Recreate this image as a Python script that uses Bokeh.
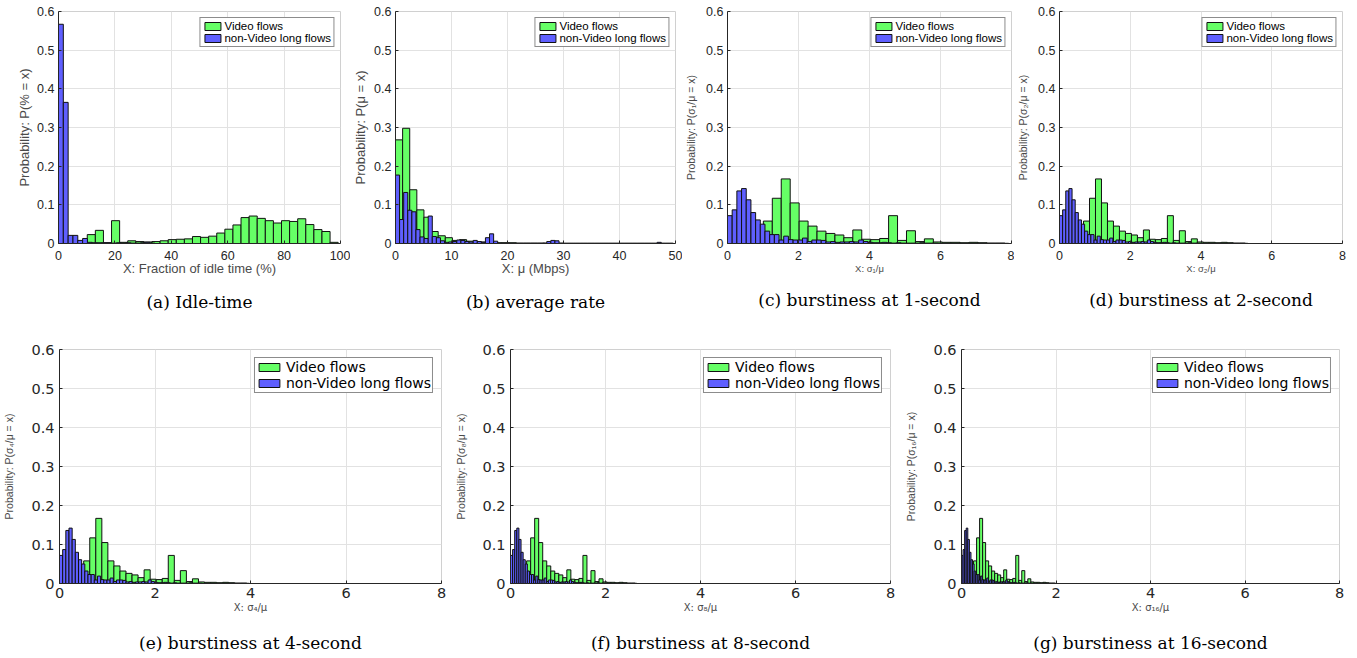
import numpy as np
from bokeh.plotting import figure
from bokeh.models import Range1d, FixedTicker, NumeralTickFormatter, Title
from bokeh.layouts import row, column
from bokeh.embed import file_html
from bokeh.resources import INLINE

# ---------------- data ----------------
# (a) idle time, % ; histogram bins
idle_video_start = 10.2
idle_video_bin = 2.87
idle_video = [0.023, 0.034, 0.002, 0.059, 0.003, 0.007, 0.005, 0.004, 0.005, 0.007,
              0.010, 0.011, 0.012, 0.018, 0.016, 0.019, 0.027, 0.037, 0.048, 0.067,
              0.071, 0.065, 0.059, 0.053, 0.059, 0.057, 0.064, 0.049, 0.036, 0.031,
              0.003]
idle_nonvideo_start = 0.0
idle_nonvideo_bin = 1.71
idle_nonvideo = [0.567, 0.365, 0.021, 0.021, 0.008, 0.013, 0.003, 0.002, 0.002, 0.002,
                 0.002, 0.001, 0.002, 0.001, 0.002, 0.001, 0.001, 0.002, 0.003, 0.001]

# (b) average rate, Mbps
rate_video_start = 0.0
rate_video_bin = 1.27
rate_video = [0.268, 0.298, 0.139, 0.087, 0.068, 0.031, 0.020, 0.015, 0.008, 0.010,
              0.006, 0.005, 0.004, 0.003, 0.002, 0.002, 0.002, 0.001, 0.001, 0.001,
              0.001, 0.0005, 0.0005, 0.0005, 0.0005, 0.0005, 0.0005, 0.0005, 0.0005, 0.0005,
              0.0005, 0.0005, 0.0005, 0.0005, 0.0005, 0.0005, 0.0005, 0.0005, 0.0005]
rate_nonvideo_start = 0.0
rate_nonvideo_bin = 0.73
rate_nonvideo = [0.177, 0.062, 0.132, 0.086, 0.082, 0.036, 0.017, 0.013, 0.071, 0.018,
                 0.015, 0.007, 0.003, 0.004, 0.005, 0.009, 0.008, 0.005, 0.004, 0.008,
                 0.005, 0.003, 0.015, 0.025, 0.006, 0.001, 0.001, 0.001, 0.0005, 0.0005,
                 0.0005, 0.0005, 0.0005, 0.0005, 0.0005, 0.0005, 0.001, 0.005, 0.008, 0.007,
                 0.001, 0.0005, 0.0005, 0.0005, 0.0005, 0.0005, 0.0005, 0.0005, 0.0005, 0.0005,
                 0.0005, 0.0005, 0.0005, 0.0005, 0.0005, 0.0005, 0.0005, 0.0005, 0.0005, 0.0005,
                 0.0005, 0.0005, 0.0005, 0.0005, 0.003, 0.0005, 0.0005, 0.0005]

# (c)-(g) burstiness sigma_T / mu : same distribution shape at every timescale,
# bins given for the 1-second case, x compressed by the factor of each timescale
burst_video_start = 1.01
burst_video_bin = 0.252
burst_video = [0.058, 0.117, 0.167, 0.105, 0.058, 0.045, 0.032, 0.026, 0.022, 0.015,
               0.035, 0.011, 0.010, 0.013, 0.072, 0.008, 0.033, 0.005, 0.012, 0.004,
               0.003, 0.003, 0.002, 0.003, 0.002, 0.001, 0.001]
burst_nonvideo_start = 0.0
burst_nonvideo_bin = 0.132
burst_nonvideo = [0.072, 0.087, 0.136, 0.142, 0.113, 0.080, 0.061, 0.050, 0.032, 0.023,
                  0.023, 0.009, 0.019, 0.010, 0.009, 0.009, 0.014, 0.005, 0.009, 0.009,
                  0.008, 0.004, 0.005, 0.003, 0.004, 0.004, 0.005, 0.004, 0.009, 0.005,
                  0.003, 0.002, 0.002, 0.003, 0.002, 0.001, 0.002, 0.001, 0.001, 0.001,
                  0.001, 0.002, 0.001, 0.001, 0.001, 0.0005, 0.0005, 0.0005, 0.0005, 0.0005,
                  0.0005, 0.0005, 0.0005, 0.0005, 0.0005, 0.0005, 0.0005, 0.0005, 0.0005, 0.0005]
burst_timescales = ["1", "2", "4", "8", "16"]
burst_subscripts = ["\u2081", "\u2082", "\u2084", "\u2088", "\u2081\u2086"]
burst_xscale = [1.0, 0.672, 0.502, 0.336, 0.253]

series_labels = ["Video flows", "non-Video long flows"]
y_ticks = [0, 0.1, 0.2, 0.3, 0.4, 0.5, 0.6]

# ---------------- styling ----------------
GREEN = "#66ff66"
BLUE = "#5f5fff"
EDGE = "#111111"
AXIS = "#262626"
LABEL = "#4a4a4a"
GRID = "#e2e2e2"
SANS = "'Liberation Sans', Arial, Helvetica, sans-serif"
WIDE = "'DejaVu Sans', sans-serif"
SERIF = "'DejaVu Serif', serif"

TOP = dict(height=328, bt=11, bb=85,
           tick_font=SANS, tick_size="12.5px", xstand=7, ystand=4,
           leg_font=SANS, leg_size="11.5px", glyph_w=20, glyph_h=10,
           leg_pad=2, leg_stand=2, leg_margin=6)
BOT = dict(height=328, bt=21, bb=73,
           tick_font=WIDE, tick_size="14.5px", xstand=4, ystand=5,
           leg_font=WIDE, leg_size="14px", glyph_w=26, glyph_h=10,
           leg_pad=1, leg_stand=4, leg_margin=8)


def add_hist(p, start, width, heights, color, label):
    left = start + width * np.arange(len(heights))
    p.quad(left=left, right=left + width, bottom=0, top=heights,
           fill_color=color, line_color=EDGE, line_width=1, legend_label=label)


def make_panel(st, w, bl, br, xmax, xstep, ylab, ylab_size, ylab_font, ylab_stand,
               xlab, xlab_size, xlab_font, xlab_stand, caption, spacer):
    p = figure(width=w, height=st["height"], x_range=Range1d(0, xmax), y_range=Range1d(0, 0.6),
               output_backend="svg", toolbar_location=None,
               min_border_left=bl, min_border_right=br,
               min_border_top=st["bt"], min_border_bottom=st["bb"])
    p.background_fill_color = "white"
    p.border_fill_color = "white"
    p.outline_line_color = "#d0d0d0"
    p.xaxis.ticker = FixedTicker(ticks=list(range(0, xmax + 1, xstep)))
    p.yaxis.ticker = FixedTicker(ticks=y_ticks)
    p.yaxis.formatter = NumeralTickFormatter(format="0.[0]")
    for ax in (p.xaxis[0], p.yaxis[0]):
        ax.axis_line_color = AXIS
        ax.major_tick_line_color = AXIS
        ax.major_tick_in = 3
        ax.major_tick_out = 0
        ax.minor_tick_line_color = None
        ax.major_label_text_font = st["tick_font"]
        ax.major_label_text_font_size = st["tick_size"]
        ax.major_label_text_color = AXIS
        ax.axis_label_text_font_style = "normal"
        ax.axis_label_text_color = LABEL
    p.xaxis.major_label_standoff = st["xstand"]
    p.yaxis.major_label_standoff = st["ystand"]
    p.xaxis.axis_label = xlab
    p.xaxis.axis_label_text_font = xlab_font
    p.xaxis.axis_label_text_font_size = xlab_size
    p.xaxis.axis_label_standoff = xlab_stand
    p.yaxis.axis_label = ylab
    p.yaxis.axis_label_text_font = ylab_font
    p.yaxis.axis_label_text_font_size = ylab_size
    p.yaxis.axis_label_standoff = ylab_stand
    p.xgrid.grid_line_color = GRID
    p.ygrid.grid_line_color = GRID
    # spacer + caption below the x axis
    p.add_layout(Title(text=" ", text_font_size="1px", standoff=spacer), "below")
    p.add_layout(Title(text=caption, align="center", standoff=0,
                       text_font=SERIF, text_font_size="17px",
                       text_font_style="normal", text_color="black"), "below")
    return p


def style_legend(p, st):
    lg = p.legend[0]
    lg.location = "top_right"
    lg.label_text_font = st["leg_font"]
    lg.label_text_font_size = st["leg_size"]
    lg.label_text_color = "black"
    lg.glyph_width = st["glyph_w"]
    lg.glyph_height = st["glyph_h"]
    lg.label_height = 10
    lg.label_standoff = st["leg_stand"]
    lg.padding = st["leg_pad"]
    lg.spacing = 0
    lg.margin = st["leg_margin"]
    lg.border_line_color = "#1a1a1a"
    lg.border_line_width = 1
    lg.background_fill_color = "white"
    lg.background_fill_alpha = 1.0


# (a)
pa = make_panel(TOP, 350, 58, 10, 100, 20, "Probability: P(% = x)", "13px", SANS, 2,
                "X: Fraction of idle time (%)", "13px", SANS, -2,
                "(a) Idle-time", 8)
add_hist(pa, idle_video_start, idle_video_bin, idle_video, GREEN, series_labels[0])
add_hist(pa, idle_nonvideo_start, idle_nonvideo_bin, idle_nonvideo, BLUE, series_labels[1])
style_legend(pa, TOP)

# (b)
pb = make_panel(TOP, 332, 41, 7, 50, 10, "Probability: P(\u03bc = x)", "13px", SANS, 3,
                "X: \u03bc (Mbps)", "13px", SANS, -2,
                "(b) average rate", 8)
add_hist(pb, rate_video_start, rate_video_bin, rate_video, GREEN, series_labels[0])
add_hist(pb, rate_nonvideo_start, rate_nonvideo_bin, rate_nonvideo, BLUE, series_labels[1])
style_legend(pb, TOP)

# (c)-(g)
burst_layout = [
    # style, width, border left, border right, ylabel standoff, spacer, caption letter
    (TOP, 332, 41, 3, 6, 8, "c"),
    (TOP, 335, 40, 7, 6, 8, "d"),
    (BOT, 452, 58, 11, 13, 12, "e"),
    (BOT, 450, 55, 12, 12, 12, "f"),
    (BOT, 445, 55, 8, 13, 12, "g"),
]
burst_panels = []
for i, (st, w, bl, br, ystd, spc, letter) in enumerate(burst_layout):
    sub = burst_subscripts[i]
    s = burst_xscale[i]
    top_row = st is TOP
    p = make_panel(st, w, bl, br, 8, 2,
                   "Probability: P(\u03c3" + sub + "/\u03bc = x)", "10.5px", SANS, ystd,
                   "X: \u03c3" + sub + "/\u03bc",
                   "9.5px" if top_row else "10px",
                   SANS if top_row else WIDE,
                   0 if top_row else 1,
                   "(" + letter + ") burstiness at " + burst_timescales[i] + "-second", spc)
    add_hist(p, burst_video_start * s, burst_video_bin * s, burst_video, GREEN, series_labels[0])
    add_hist(p, burst_nonvideo_start * s, burst_nonvideo_bin * s, burst_nonvideo, BLUE, series_labels[1])
    style_legend(p, st)
    burst_panels.append(p)

layout = column(row(pa, pb, burst_panels[0], burst_panels[1]),
                row(burst_panels[2], burst_panels[3], burst_panels[4]))

open("out.html", "w").write(file_html(layout, INLINE))
